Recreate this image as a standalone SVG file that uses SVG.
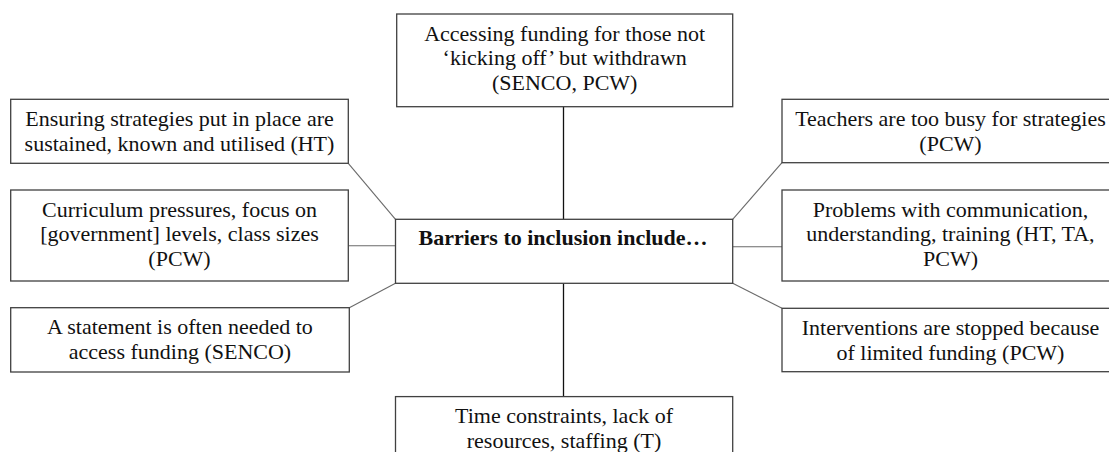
<svg xmlns="http://www.w3.org/2000/svg" width="1109" height="452" viewBox="0 0 1109 452">
<style>
.box{fill:#fff;stroke:#404040;stroke-width:1.3}
.t{font-family:'Liberation Serif','Tinos','DejaVu Serif','Times New Roman',serif;font-size:22px;fill:#111;text-anchor:middle}
.b{font-weight:bold}
.c{stroke:#6a6a6a;stroke-width:1.1;fill:none}
.v{stroke:#111;stroke-width:1.3;fill:none}
</style>
<rect width="1109" height="452" fill="#fff"/>
<g id="connectors">
<line class="v" x1="563.5" y1="106.7" x2="563.5" y2="219.3"/>
<line class="v" x1="563.5" y1="283.3" x2="563.5" y2="396.6"/>
<line class="c" x1="348.3" y1="163.3" x2="395.5" y2="219.3"/>
<line class="c" x1="348.3" y1="245.7" x2="395.5" y2="245.7"/>
<line class="c" x1="395.5" y1="283.3" x2="349.3" y2="307.7"/>
<line class="c" x1="732.7" y1="219.3" x2="782" y2="162.7"/>
<line class="c" x1="732.7" y1="246.7" x2="782" y2="246.7"/>
<line class="c" x1="732.7" y1="283.3" x2="782" y2="308.3"/>
</g>
<g id="center">
<rect class="box" x="395.5" y="219.3" width="337.2" height="64"/>
<text class="t b" x="563" y="245" font-family="Liberation Serif, serif">Barriers to inclusion include…</text>
</g>
<g id="top">
<rect class="box" x="396.7" y="14" width="336" height="92.7"/>
<text class="t" x="564.7" y="40.7">Accessing funding for those not</text>
<text class="t" x="564.7" y="65.4">‘kicking off’ but withdrawn</text>
<text class="t" x="564.7" y="90.1">(SENCO, PCW)</text>
</g>
<g id="ensuring">
<rect class="box" x="10.7" y="99.3" width="337.6" height="64"/>
<text class="t" x="179.5" y="126">Ensuring strategies put in place are</text>
<text class="t" x="179.5" y="150.7">sustained, known and utilised (HT)</text>
</g>
<g id="curriculum">
<rect class="box" x="10.7" y="190" width="337.6" height="91"/>
<text class="t" x="179.5" y="216.7">Curriculum pressures, focus on</text>
<text class="t" x="179.5" y="241.4">[government] levels, class sizes</text>
<text class="t" x="179.5" y="266.1">(PCW)</text>
</g>
<g id="statement">
<rect class="box" x="10.7" y="307.7" width="338.6" height="64.3"/>
<text class="t" x="180" y="334.4">A statement is often needed to</text>
<text class="t" x="180" y="359.1">access funding (SENCO)</text>
</g>
<g id="teachers">
<rect class="box" x="782" y="99.3" width="337" height="63.4"/>
<text class="t" x="950.5" y="126">Teachers are too busy for strategies</text>
<text class="t" x="950.5" y="150.7">(PCW)</text>
</g>
<g id="problems">
<rect class="box" x="782" y="190" width="337" height="91"/>
<text class="t" x="950.5" y="216.7">Problems with communication,</text>
<text class="t" x="950.5" y="241.4">understanding, training (HT, TA,</text>
<text class="t" x="950.5" y="266.1">PCW)</text>
</g>
<g id="interventions">
<rect class="box" x="782" y="308.3" width="337" height="63.4"/>
<text class="t" x="950.5" y="335">Interventions are stopped because</text>
<text class="t" x="950.5" y="359.7">of limited funding (PCW)</text>
</g>
<g id="bottom">
<rect class="box" x="395.5" y="396.6" width="337.2" height="70"/>
<text class="t" x="564" y="423.3">Time constraints, lack of</text>
<text class="t" x="564" y="448">resources, staffing (T)</text>
</g>
</svg>
